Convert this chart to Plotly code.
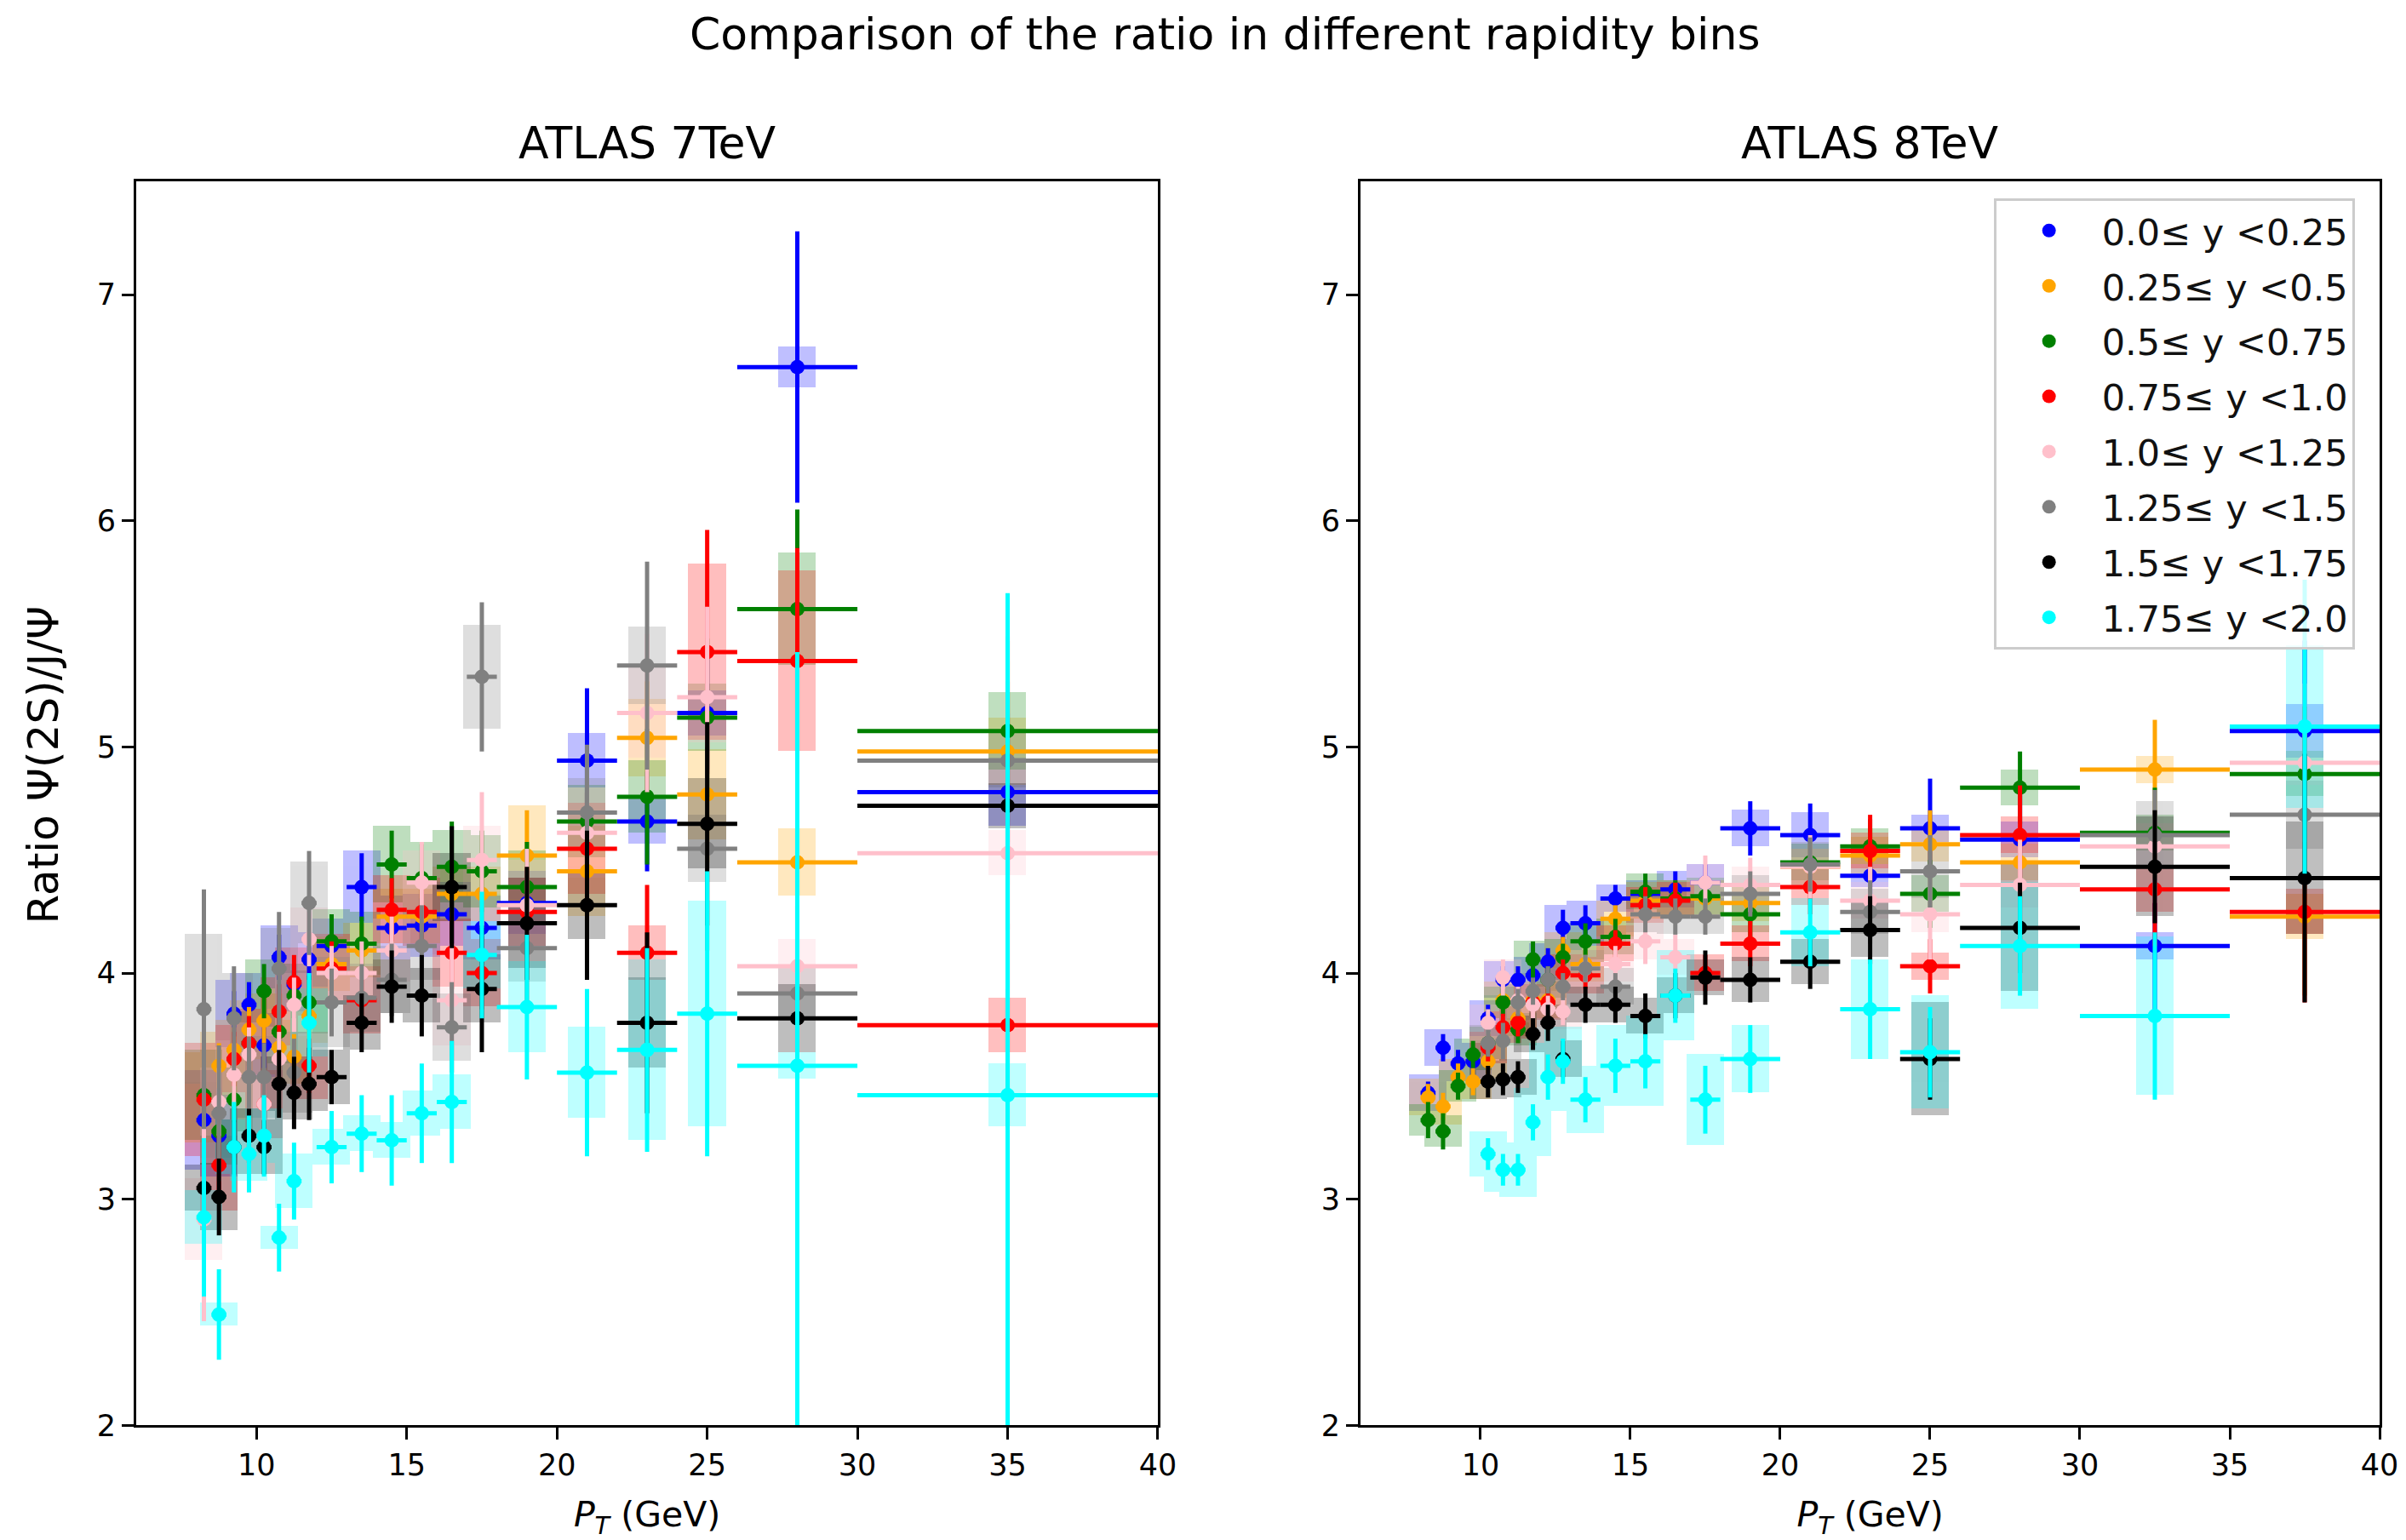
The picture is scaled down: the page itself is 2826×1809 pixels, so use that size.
import plotly.graph_objects as go

# ---------------- data ----------------
labels = ["0.0≤ y <0.25", "0.25≤ y <0.5", "0.5≤ y <0.75", "0.75≤ y <1.0",
          "1.0≤ y <1.25", "1.25≤ y <1.5", "1.5≤ y <1.75", "1.75≤ y <2.0"]
colors = ["#0000ff", "#ffa500", "#008000", "#ff0000",
          "#ffc0cb", "#808080", "#000000", "#00ffff"]

# ATLAS 7 TeV
pt7 = [8.25, 8.75, 9.25, 9.75, 10.25, 10.75, 11.25, 11.75, 12.5, 13.5,
       14.5, 15.5, 16.5, 17.5, 19, 21, 23, 25, 28, 35]
pt7_err = [0.25, 0.25, 0.25, 0.25, 0.25, 0.25, 0.25, 0.25, 0.5, 0.5,
           0.5, 0.5, 0.5, 0.5, 1, 1, 1, 1, 2, 5]

r7_y000 = [3.35, 3.28, 3.82, 3.86, 3.68, 4.07, 3.95, 4.06, 4.12, 4.38, 4.20, 4.21, 4.26, 4.20, 4.31, 4.94, 4.67, 5.15, 6.68, 4.80]
r7_y025 = [3.45, 3.59, 3.66, 3.75, 3.79, 3.67, 3.63, 3.81, 4.04, 4.10, 4.25, 4.25, 4.35, 4.35, 4.52, 4.45, 5.04, 4.79, 4.49, 4.98]
r7_y050 = [3.46, 3.30, 3.44, 3.69, 3.92, 3.74, 3.90, 3.87, 4.14, 4.13, 4.48, 4.42, 4.47, 4.45, 4.38, 4.67, 4.78, 5.13, 5.61, 5.07]
r7_y075 = [3.44, 3.15, 3.62, 3.69, 3.42, 3.83, 3.96, 3.59, 4.02, 3.88, 4.28, 4.27, 4.09, 4.00, 4.27, 4.55, 4.09, 5.42, 5.38, 3.77]
r7_y100 = [2.91, 3.43, 3.55, 3.64, 3.42, 3.62, 3.86, 4.15, 4.00, 4.00, 4.10, 4.40, 3.88, 4.50, 4.30, 4.62, 5.15, 5.22, 4.03, 4.53]
r7_y125 = [3.84, 3.38, 3.80, 3.54, 3.54, 4.02, 3.56, 4.31, 3.87, 3.89, 3.97, 4.12, 3.76, 5.31, 4.11, 4.71, 5.36, 4.55, 3.91, 4.94]
r7_y150 = [3.05, 3.01, 3.23, 3.28, 3.23, 3.51, 3.47, 3.51, 3.54, 3.78, 3.94, 3.90, 4.38, 3.93, 4.22, 4.30, 3.78, 4.66, 3.80, 4.74]
r7_y175 = [2.92, 2.49, 3.23, 3.20, 3.28, 2.83, 3.08, 3.78, 3.23, 3.29, 3.26, 3.38, 3.43, 4.08, 3.85, 3.56, 3.66, 3.82, 3.59, 3.46]

st7_y000 = [0.10, 0.10, 0.10, 0.10, 0.10, 0.10, 0.09, 0.09, 0.10, 0.15, 0.12, 0.12, 0.13, 0.14, 0.15, 0.32, 0.22, 0.25, 0.60, 0.35]
st7_y025 = [0.12, 0.10, 0.10, 0.10, 0.10, 0.10, 0.10, 0.10, 0.10, 0.12, 0.12, 0.12, 0.13, 0.14, 0.20, 0.22, 0.25, 0.30, 0.35, 0.40]
st7_y050 = [0.12, 0.12, 0.10, 0.10, 0.12, 0.10, 0.10, 0.12, 0.12, 0.12, 0.15, 0.15, 0.20, 0.18, 0.20, 0.25, 0.30, 0.35, 0.44, 0.40]
st7_y075 = [0.14, 0.14, 0.12, 0.12, 0.12, 0.12, 0.12, 0.12, 0.12, 0.12, 0.14, 0.15, 0.16, 0.16, 0.20, 0.25, 0.30, 0.54, 0.50, 0.45]
st7_y100 = [0.45, 0.15, 0.14, 0.12, 0.12, 0.12, 0.12, 0.12, 0.12, 0.14, 0.15, 0.18, 0.25, 0.30, 0.25, 0.30, 0.35, 0.40, 0.45, 0.60]
st7_y125 = [0.53, 0.30, 0.23, 0.18, 0.15, 0.25, 0.15, 0.23, 0.15, 0.15, 0.16, 0.18, 0.20, 0.33, 0.25, 0.30, 0.46, 0.45, 0.50, 0.55]
st7_y150 = [0.12, 0.17, 0.12, 0.12, 0.12, 0.15, 0.16, 0.16, 0.12, 0.13, 0.16, 0.18, 0.27, 0.28, 0.25, 0.33, 0.40, 0.45, 0.50, 0.55]
st7_y175 = [0.35, 0.20, 0.20, 0.17, 0.18, 0.15, 0.17, 0.22, 0.16, 0.17, 0.20, 0.22, 0.27, 0.28, 0.32, 0.37, 0.45, 0.63, 1.83, 2.22]

sy7_y000 = [0.22, 0.18, 0.15, 0.14, 0.14, 0.14, 0.12, 0.12, 0.12, 0.16, 0.14, 0.14, 0.14, 0.14, 0.14, 0.12, 0.10, 0.10, 0.09, 0.15]
sy7_y025 = [0.20, 0.15, 0.13, 0.13, 0.12, 0.12, 0.12, 0.12, 0.12, 0.12, 0.12, 0.12, 0.12, 0.12, 0.22, 0.20, 0.17, 0.20, 0.15, 0.15]
sy7_y050 = [0.20, 0.15, 0.14, 0.14, 0.14, 0.14, 0.14, 0.14, 0.14, 0.14, 0.17, 0.16, 0.16, 0.16, 0.16, 0.16, 0.16, 0.15, 0.25, 0.17]
sy7_y075 = [0.25, 0.20, 0.15, 0.15, 0.15, 0.15, 0.15, 0.15, 0.15, 0.15, 0.15, 0.15, 0.15, 0.15, 0.15, 0.20, 0.12, 0.39, 0.40, 0.12]
sy7_y100 = [0.18, 0.15, 0.15, 0.14, 0.14, 0.14, 0.14, 0.14, 0.14, 0.14, 0.14, 0.14, 0.20, 0.15, 0.20, 0.20, 0.20, 0.20, 0.12, 0.10]
sy7_y125 = [0.33, 0.20, 0.20, 0.18, 0.18, 0.18, 0.18, 0.18, 0.20, 0.15, 0.15, 0.15, 0.15, 0.23, 0.15, 0.15, 0.17, 0.15, 0.12, 0.12]
sy7_y150 = [0.10, 0.15, 0.12, 0.12, 0.12, 0.12, 0.12, 0.12, 0.12, 0.12, 0.12, 0.12, 0.15, 0.15, 0.20, 0.15, 0.20, 0.20, 0.15, 0.10]
sy7_y175 = [0.12, 0.05, 0.12, 0.12, 0.12, 0.05, 0.12, 0.15, 0.08, 0.08, 0.08, 0.10, 0.12, 0.15, 0.20, 0.20, 0.40, 0.50, 0.06, 0.14]

# ATLAS 8 TeV
pt8 = [8.25, 8.75, 9.25, 9.75, 10.25, 10.75, 11.25, 11.75, 12.25, 12.75, 13.5,
       14.5, 15.5, 16.5, 17.5, 19, 21, 23, 25, 28, 32.5, 37.5]
pt8_err = [0.25, 0.25, 0.25, 0.25, 0.25, 0.25, 0.25, 0.25, 0.25, 0.25, 0.5,
           0.5, 0.5, 0.5, 0.5, 1, 1, 1, 1, 2, 2.5, 2.5]

N = None
r8_y000 = [3.47, 3.67, 3.60, 3.61, 3.80, 3.97, 3.97, 3.99, 4.05, 4.20, 4.22, 4.33, 4.35, 4.37, 4.40, 4.64, 4.61, 4.43, 4.64, 4.59, 4.12, 5.07]
r8_y025 = [3.45, 3.41, 3.54, 3.52, 3.61, 3.88, 3.80, 3.88, 3.88, 4.10, 4.04, 4.24, 4.32, 4.33, 4.33, 4.31, 4.47, 4.52, 4.57, 4.49, 4.90, 4.25]
r8_y050 = [3.35, 3.30, 3.50, 3.64, 3.69, 3.87, 3.75, 4.06, 3.97, 4.07, 4.14, 4.16, 4.36, 4.33, 4.34, 4.26, 4.49, 4.56, 4.35, 4.82, 4.62, 4.88]
r8_y075 = [N, N, N, N, 3.67, 3.76, 3.78, 3.87, 3.87, 4.00, 3.99, 4.13, 4.30, 4.32, 4.00, 4.13, 4.38, 4.54, 4.03, 4.61, 4.37, 4.27]
r8_y100 = [N, N, N, N, 3.78, 3.98, 3.88, 3.86, 3.84, 3.83, 4.02, 4.04, 4.14, 4.07, 4.40, 4.39, 4.47, 4.32, 4.26, 4.39, 4.56, 4.93]
r8_y125 = [N, N, N, N, 3.69, 3.70, 3.87, 3.92, 3.97, 3.94, 4.02, 3.94, 4.26, 4.25, 4.25, 4.35, 4.48, 4.27, 4.45, N, 4.61, 4.70]
r8_y150 = [N, N, N, N, 3.52, 3.53, 3.54, 3.73, 3.78, 3.62, 3.86, 3.86, 3.81, 3.90, 3.98, 3.97, 4.05, 4.19, 3.62, 4.20, 4.47, 4.42]
r8_y175 = [N, N, N, N, 3.20, 3.13, 3.13, 3.34, 3.54, 3.61, 3.44, 3.59, 3.61, 3.90, 3.44, 3.62, 4.18, 3.84, 3.65, 4.12, 3.81, 5.09]

st8_y000 = [0.05, 0.06, 0.06, 0.06, 0.06, 0.06, 0.06, 0.06, 0.06, 0.08, 0.08, 0.06, 0.06, 0.08, 0.08, 0.12, 0.14, 0.13, 0.22, 0.20, 0.30, 0.40]
st8_y025 = [0.06, 0.06, 0.06, 0.06, 0.06, 0.06, 0.06, 0.06, 0.06, 0.06, 0.06, 0.06, 0.08, 0.08, 0.08, 0.10, 0.10, 0.12, 0.15, 0.18, 0.22, 0.35]
st8_y050 = [0.08, 0.08, 0.06, 0.06, 0.06, 0.06, 0.06, 0.08, 0.06, 0.06, 0.08, 0.08, 0.08, 0.08, 0.08, 0.10, 0.10, 0.12, 0.15, 0.16, 0.20, 0.30]
st8_y075 = [N, N, N, N, 0.06, 0.06, 0.06, 0.06, 0.06, 0.06, 0.06, 0.06, 0.08, 0.08, 0.08, 0.10, 0.12, 0.16, 0.12, 0.22, 0.25, 0.40]
st8_y100 = [N, N, N, N, 0.06, 0.08, 0.06, 0.06, 0.06, 0.06, 0.06, 0.08, 0.10, 0.10, 0.12, 0.12, 0.14, 0.15, 0.20, 0.20, 0.25, 0.35]
st8_y125 = [N, N, N, N, 0.06, 0.08, 0.06, 0.06, 0.06, 0.06, 0.06, 0.06, 0.08, 0.08, 0.08, 0.10, 0.12, 0.14, 0.16, N, 0.20, 0.35]
st8_y150 = [N, N, N, N, 0.07, 0.07, 0.07, 0.07, 0.08, 0.08, 0.08, 0.08, 0.10, 0.10, 0.12, 0.10, 0.12, 0.15, 0.18, 0.20, 0.25, 0.55]
st8_y175 = [N, N, N, N, 0.07, 0.07, 0.07, 0.08, 0.10, 0.10, 0.10, 0.12, 0.12, 0.12, 0.15, 0.15, 0.15, 0.22, 0.20, 0.22, 0.37, 0.65]

sy8_y000 = [0.08, 0.08, 0.08, 0.08, 0.08, 0.08, 0.08, 0.08, 0.08, 0.10, 0.10, 0.06, 0.06, 0.08, 0.08, 0.08, 0.10, 0.05, 0.06, 0.08, 0.06, 0.12]
sy8_y025 = [0.08, 0.08, 0.08, 0.08, 0.08, 0.08, 0.08, 0.08, 0.08, 0.08, 0.08, 0.08, 0.08, 0.08, 0.08, 0.08, 0.08, 0.08, 0.08, 0.08, 0.06, 0.10]
sy8_y050 = [0.07, 0.07, 0.07, 0.07, 0.07, 0.07, 0.07, 0.08, 0.08, 0.08, 0.08, 0.08, 0.08, 0.08, 0.08, 0.08, 0.08, 0.08, 0.08, 0.08, 0.08, 0.10]
sy8_y075 = [N, N, N, N, 0.07, 0.07, 0.07, 0.08, 0.08, 0.08, 0.08, 0.08, 0.08, 0.08, 0.08, 0.08, 0.08, 0.08, 0.06, 0.08, 0.10, 0.10]
sy8_y100 = [N, N, N, N, 0.08, 0.08, 0.08, 0.08, 0.08, 0.08, 0.08, 0.08, 0.08, 0.08, 0.08, 0.08, 0.08, 0.08, 0.08, 0.10, 0.10, 0.10]
sy8_y125 = [N, N, N, N, 0.08, 0.08, 0.08, 0.08, 0.08, 0.08, 0.08, 0.08, 0.08, 0.08, 0.08, 0.08, 0.10, 0.10, 0.12, N, 0.15, 0.15]
sy8_y150 = [N, N, N, N, 0.08, 0.08, 0.08, 0.08, 0.08, 0.08, 0.08, 0.08, 0.08, 0.08, 0.08, 0.10, 0.10, 0.12, 0.25, 0.28, 0.22, 0.25]
sy8_y175 = [N, N, N, N, 0.10, 0.10, 0.12, 0.15, 0.15, 0.15, 0.15, 0.18, 0.20, 0.20, 0.20, 0.15, 0.15, 0.22, 0.25, 0.28, 0.35, 0.36]

ratios7 = [r7_y000, r7_y025, r7_y050, r7_y075, r7_y100, r7_y125, r7_y150, r7_y175]
stats7 = [st7_y000, st7_y025, st7_y050, st7_y075, st7_y100, st7_y125, st7_y150, st7_y175]
systs7 = [sy7_y000, sy7_y025, sy7_y050, sy7_y075, sy7_y100, sy7_y125, sy7_y150, sy7_y175]
ratios8 = [r8_y000, r8_y025, r8_y050, r8_y075, r8_y100, r8_y125, r8_y150, r8_y175]
stats8 = [st8_y000, st8_y025, st8_y050, st8_y075, st8_y100, st8_y125, st8_y150, st8_y175]
systs8 = [sy8_y000, sy8_y025, sy8_y050, sy8_y075, sy8_y100, sy8_y125, sy8_y150, sy8_y175]

# ---------------- styling ----------------
BOX_W = 1.25
MARKER = 17
ELW = 5
FONT = "DejaVu Sans"

fig = go.Figure()


def add_panel(pt, pterr, ratios, stats, systs, xa, ya, legend):
    # systematic-uncertainty boxes (drawn below the points)
    for i in range(8):
        idx = [k for k, v in enumerate(ratios[i]) if v is not None]
        xs = [pt[k] for k in idx]
        ys = [ratios[i][k] for k in idx]
        ss = [systs[i][k] for k in idx]
        fig.add_trace(go.Bar(
            x=xs, y=[2 * s for s in ss], base=[y - s for y, s in zip(ys, ss)],
            width=BOX_W, marker=dict(color=colors[i], line=dict(width=0)),
            opacity=0.25, xaxis=xa, yaxis=ya, showlegend=False, hoverinfo="skip",
            legendgroup=labels[i]))
    # points with statistical error bars
    for i in range(8):
        idx = [k for k, v in enumerate(ratios[i]) if v is not None]
        xs = [pt[k] for k in idx]
        ys = [ratios[i][k] for k in idx]
        ex = [pterr[k] for k in idx]
        ey = [stats[i][k] for k in idx]
        fig.add_trace(go.Scatter(
            x=xs, y=ys, mode="markers", name=labels[i], legendgroup=labels[i],
            marker=dict(color=colors[i], size=MARKER),
            error_x=dict(type="data", array=ex, color=colors[i], thickness=ELW, width=0),
            error_y=dict(type="data", array=ey, color=colors[i], thickness=ELW, width=0),
            xaxis=xa, yaxis=ya, showlegend=legend))


add_panel(pt7, pt7_err, ratios7, stats7, systs7, "x", "y", False)
add_panel(pt8, pt8_err, ratios8, stats8, systs8, "x2", "y2", True)

W, H = 2826, 1809
K = 0.9915  # page is photographed slightly shrunk; compensate positions
L1, R1 = 160 / K, 1359 / K
L2, R2 = 1597 / K, 2793 / K
TOP, BOT = 215.8, 1693.0

axis_common = dict(showline=True, linecolor="black", linewidth=3, mirror=True,
                   ticks="outside", ticklen=14, tickwidth=3, tickcolor="black",
                   showgrid=False, zeroline=False,
                   tickfont=dict(family=FONT, size=35, color="black"))

xtitle = dict(text="<i>P</i><sub><i>T</i></sub> (GeV)",
              font=dict(family=FONT, size=41, color="black"), standoff=34)

fig.update_layout(
    width=W, height=H,
    margin=dict(l=0, r=0, t=0, b=0),
    paper_bgcolor="white", plot_bgcolor="white",
    barmode="overlay", bargap=0,
    font=dict(family=FONT, color="black"),
    xaxis=dict(domain=[L1 / W, R1 / W], range=[6, 40], anchor="y",
               tickvals=[10, 15, 20, 25, 30, 35, 40], title=xtitle, **axis_common),
    yaxis=dict(domain=[1 - BOT / H, 1 - TOP / H], range=[2, 7.5], anchor="x",
               tickvals=[2, 3, 4, 5, 6, 7], **axis_common),
    xaxis2=dict(domain=[L2 / W, R2 / W], range=[6, 40], anchor="y2",
                tickvals=[10, 15, 20, 25, 30, 35, 40], title=xtitle, **axis_common),
    yaxis2=dict(domain=[1 - BOT / H, 1 - TOP / H], range=[2, 7.5], anchor="x2",
                tickvals=[2, 3, 4, 5, 6, 7], **axis_common),
    legend=dict(x=2340 / K / W, y=1 - 234 / K / H, xanchor="left", yanchor="top",
                bgcolor="rgba(255,255,255,0.8)", bordercolor="#cccccc", borderwidth=3,
                font=dict(family=FONT, size=43, color="#111111"),
                itemwidth=114, tracegroupgap=6),
    annotations=[
        dict(text="Comparison of the ratio in different rapidity bins",
             x=1437 / K / W, y=1 - 40 / K / H,
             xref="paper", yref="paper", showarrow=False, xanchor="center", yanchor="middle",
             font=dict(family=FONT, size=52, color="black")),
        dict(text="ATLAS 7TeV", x=(L1 + R1) / 2 / W, y=1 - 168 / K / H,
             xref="paper", yref="paper", showarrow=False, xanchor="center", yanchor="middle",
             font=dict(family=FONT, size=52, color="black")),
        dict(text="ATLAS 8TeV", x=(L2 + R2) / 2 / W, y=1 - 168 / K / H,
             xref="paper", yref="paper", showarrow=False, xanchor="center", yanchor="middle",
             font=dict(family=FONT, size=52, color="black")),
        dict(text="Ratio Ψ(2S)/J/Ψ", textangle=-90,
             x=51 / W, y=1 - 909 / H,
             xref="paper", yref="paper", showarrow=False, xanchor="center", yanchor="middle",
             font=dict(family=FONT, size=50, color="black")),
    ],
)

fig.write_html("out.html")
